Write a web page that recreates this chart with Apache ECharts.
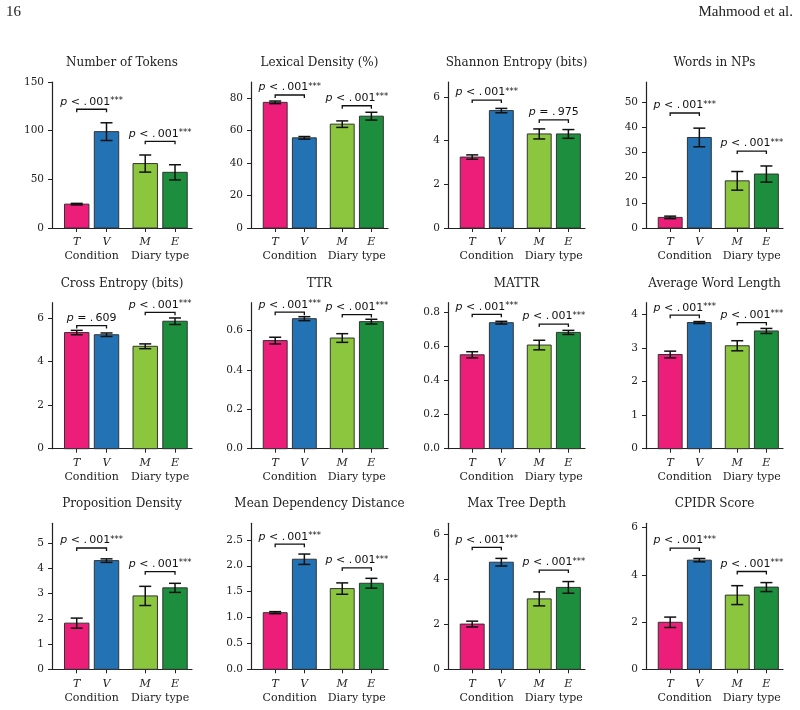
<!DOCTYPE html>
<html>
<head>
<meta charset="utf-8">
<script src="https://cdn.jsdelivr.net/npm/echarts@6/dist/echarts.min.js"></script>
<style>
  html, body { margin: 0; background: #fff; }
  #chart { width: 800px; height: 710px; }
</style>
</head>
<body>
<div id="chart"></div>
<script>
// categories
const groups = ['T', 'V', 'M', 'E']
const groupNames = ['Condition', 'Diary type']
const xPos = [0, 1, 2.3, 3.3]
const groupCenters = [0.5, 2.8]
const barColors = ['#EC1E79', '#2372B3', '#8CC63F', '#1D8E3E']

const titles = ['Number of Tokens', 'Lexical Density (%)', 'Shannon Entropy (bits)', 'Words in NPs',
    'Cross Entropy (bits)', 'TTR', 'MATTR', 'Average Word Length',
    'Proposition Density', 'Mean Dependency Distance', 'Max Tree Depth', 'CPIDR Score']

// mean of T, V, M, E for every panel
const means = [
    [24.5, 99, 66.2, 57.2],
    [77.2, 55.4, 63.8, 68.7],
    [3.25, 5.38, 4.31, 4.31],
    [4.2, 35.9, 18.7, 21.4],
    [5.33, 5.23, 4.70, 5.85],
    [0.548, 0.659, 0.561, 0.644],
    [0.550, 0.738, 0.607, 0.681],
    [2.80, 3.75, 3.06, 3.50],
    [1.83, 4.31, 2.91, 3.23],
    [1.094, 2.126, 1.559, 1.662],
    [2.01, 4.76, 3.13, 3.64],
    [1.99, 4.62, 3.14, 3.48]
]

// error bar half length
const errors = [
    [0.8, 9.1, 8.8, 7.8],
    [0.8, 0.8, 2.0, 2.4],
    [0.1, 0.1, 0.23, 0.2],
    [0.5, 3.7, 3.7, 3.2],
    [0.1, 0.08, 0.11, 0.15],
    [0.017, 0.01, 0.022, 0.012],
    [0.018, 0.008, 0.028, 0.012],
    [0.1, 0.03, 0.15, 0.075],
    [0.2, 0.07, 0.38, 0.18],
    [0.02, 0.1, 0.11, 0.095],
    [0.13, 0.17, 0.31, 0.26],
    [0.22, 0.07, 0.4, 0.19]
]

// p value text (T vs V, M vs E)
const pValues = [
    ['< .001', '< .001'],
    ['< .001', '< .001'],
    ['< .001', '= .975'],
    ['< .001', '< .001'],
    ['= .609', '< .001'],
    ['< .001', '< .001'],
    ['< .001', '< .001'],
    ['< .001', '< .001'],
    ['< .001', '< .001'],
    ['< .001', '< .001'],
    ['< .001', '< .001'],
    ['< .001', '< .001']
]

// height of the significance brackets
const bracketHeights = [
    [122, 89],
    [81.7, 75.1],
    [5.86, 4.95],
    [45.6, 30.5],
    [5.65, 6.26],
    [0.692, 0.680],
    [0.787, 0.730],
    [3.97, 3.75],
    [4.81, 3.87],
    [2.416, 1.958],
    [5.42, 4.41],
    [5.13, 4.14]
]

const yMaxes = [150, 89.7, 6.69, 57.9, 6.70, 0.740, 0.855, 4.34, 5.79, 2.82, 6.49, 6.18]
const yTicks = [
    [0, 50, 100, 150],
    [0, 20, 40, 60, 80],
    [0, 2, 4, 6],
    [0, 10, 20, 30, 40, 50],
    [0, 2, 4, 6],
    [0, 0.2, 0.4, 0.6],
    [0, 0.2, 0.4, 0.6, 0.8],
    [0, 1, 2, 3, 4],
    [0, 1, 2, 3, 4, 5],
    [0, 0.5, 1, 1.5, 2, 2.5],
    [0, 2, 4, 6],
    [0, 2, 4, 6]
]
const yDecimals = [0, 0, 0, 0, 0, 1, 1, 0, 0, 1, 0, 0]

// layout
const colLeft = [52, 251, 448, 646]
const colWidth = [140, 137, 137, 137]
const rowTop = [82, 302.7, 523.3]
const plotHeight = 146
const xMin = -0.83
const xMax = 3.87
const barHalf = 0.41

const serif = 'DejaVu Serif'
const ink = '#222'

let myChart = echarts.init(document.querySelector('#chart'))

function renderBar(params, api) {
    const x = api.value(0), y = api.value(1), e = api.value(2), k = api.value(3)
    const lo = api.coord([x - barHalf, 0])
    const hi = api.coord([x + barHalf, y])
    const top = api.coord([x, y + e])
    const bot = api.coord([x, y - e])
    const cap = 6
    const ebar = { stroke: '#111', lineWidth: 1.5 }
    return {
        type: 'group',
        children: [
            {
                type: 'rect',
                shape: { x: lo[0], y: hi[1], width: hi[0] - lo[0], height: lo[1] - hi[1] },
                style: { fill: barColors[k], stroke: '#333', lineWidth: 1 }
            },
            { type: 'line', shape: { x1: top[0], y1: top[1], x2: bot[0], y2: bot[1] }, style: ebar },
            { type: 'line', shape: { x1: top[0] - cap, y1: top[1], x2: top[0] + cap, y2: top[1] }, style: ebar },
            { type: 'line', shape: { x1: bot[0] - cap, y1: bot[1], x2: bot[0] + cap, y2: bot[1] }, style: ebar }
        ]
    }
}

function makeBracketRenderer(panel) {
    return function (params, api) {
        const a = api.coord([api.value(0), api.value(2)])
        const b = api.coord([api.value(1), api.value(2)])
        const tick = 3
        const pv = pValues[panel][params.dataIndex]
        const stars = pv.charAt(0) === '<' ? '{s|***}' : ''
        return {
            type: 'group',
            children: [
                {
                    type: 'polyline',
                    shape: { points: [[a[0], a[1] + tick], [a[0], a[1]], [b[0], b[1]], [b[0], b[1] + tick]] },
                    style: { stroke: '#111', lineWidth: 1.3, fill: null }
                },
                {
                    type: 'text',
                    x: (a[0] + b[0]) / 2,
                    y: a[1] - 2,
                    style: {
                        text: '{i|p}{r| ' + pv.replace('.', '.\u2009') + '}' + stars,
                        align: 'center',
                        verticalAlign: 'bottom',
                        fill: '#111',
                        rich: {
                            i: { fontFamily: 'DejaVu Sans', fontStyle: 'italic', fontSize: 11, fill: '#111' },
                            r: { fontFamily: 'DejaVu Sans', fontSize: 11, fill: '#111' },
                            s: { fontFamily: 'DejaVu Sans', fontSize: 8.5, fill: '#111', verticalAlign: 'top' }
                        }
                    }
                }
            ]
        }
    }
}

const grid = [], xAxis = [], yAxis = [], series = [], graphic = []

titles.forEach((title, i) => {
    const row = Math.floor(i / 4), col = i % 4
    grid.push({ left: colLeft[col], top: rowTop[row], width: colWidth[col], height: plotHeight })

    // main x axis with T V M E
    xAxis.push({
        type: 'value', gridIndex: i, min: xMin, max: xMax, position: 'bottom',
        splitLine: { show: false },
        axisLine: { show: true, onZero: false, lineStyle: { color: ink, width: 1.2 } },
        axisTick: { show: true, length: 4, customValues: xPos, lineStyle: { color: ink } },
        axisLabel: {
            customValues: xPos, margin: 9, color: ink,
            fontFamily: serif, fontStyle: 'italic', fontSize: 11,
            formatter: v => groups[xPos.findIndex(p => Math.abs(p - v) < 1e-6)] || ''
        }
    })
    // second x axis for the group names
    xAxis.push({
        type: 'value', gridIndex: i, min: xMin, max: xMax, position: 'bottom',
        splitLine: { show: false },
        axisLine: { show: false, onZero: false },
        axisTick: { show: false },
        axisLabel: {
            customValues: groupCenters, margin: 23, color: ink,
            fontFamily: serif, fontSize: 11,
            formatter: v => groupNames[groupCenters.findIndex(p => Math.abs(p - v) < 1e-6)] || ''
        }
    })

    yAxis.push({
        type: 'value', gridIndex: i, min: 0, max: yMaxes[i], position: 'left',
        splitLine: { show: false },
        axisLine: { show: true, onZero: false, lineStyle: { color: ink, width: 1.2 } },
        axisTick: { show: true, length: 4, customValues: yTicks[i], lineStyle: { color: ink } },
        axisLabel: {
            customValues: yTicks[i], margin: 8, color: ink,
            fontFamily: serif, fontSize: 10.5,
            formatter: v => Number(v).toFixed(yDecimals[i])
        }
    })

    series.push({
        type: 'custom',
        xAxisIndex: 2 * i,
        yAxisIndex: i,
        clip: false,
        data: groups.map((g, k) => [xPos[k], means[i][k], errors[i][k], k]),
        renderItem: renderBar
    })

    series.push({
        type: 'custom',
        xAxisIndex: 2 * i,
        yAxisIndex: i,
        clip: false,
        encode: { x: [0, 1], y: 2 },
        data: [
            [xPos[0], xPos[1], bracketHeights[i][0]],
            [xPos[2], xPos[3], bracketHeights[i][1]]
        ],
        renderItem: makeBracketRenderer(i)
    })

    // panel title
    graphic.push({
        type: 'text',
        x: colLeft[col] + colWidth[col] / 2,
        y: rowTop[row] - 19,
        style: {
            text: title, align: 'center', verticalAlign: 'middle',
            font: '12px "DejaVu Serif"', fill: ink
        }
    })
})

// page header
graphic.push({
    type: 'text', x: 6, y: 12,
    style: { text: '16', verticalAlign: 'middle', font: '15px "Liberation Serif"', fill: ink }
})
graphic.push({
    type: 'text', x: 793, y: 12,
    style: { text: 'Mahmood et al.', align: 'right', verticalAlign: 'middle', font: '15px "Liberation Serif"', fill: ink }
})

const option = {
    backgroundColor: '#fff',
    animation: false,
    grid: grid,
    xAxis: xAxis,
    yAxis: yAxis,
    series: series,
    graphic: graphic
}

myChart.setOption(option)
</script>
</body>
</html>
